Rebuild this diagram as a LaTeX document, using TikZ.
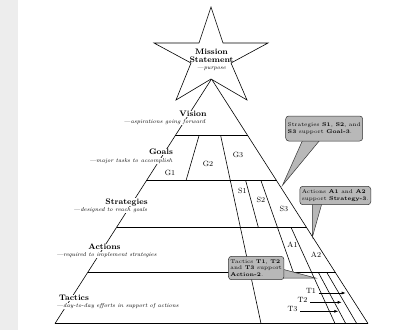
\documentclass[tikz,border=0pt]{standalone}
\usepackage{tikz}
\usetikzlibrary{arrows.meta, positioning, shapes, calc}

\tikzset{
  level/.style={fill=white, inner sep=0.6pt, font=\fontsize{8}{8.6}\selectfont\bfseries},
  levelsub/.style={fill=white, inner sep=0.6pt, font=\fontsize{5.7}{6}\selectfont\itshape},
  part/.style={inner sep=0pt, font=\fontsize{7.6}{8}\selectfont},
  callout/.style={draw=black!80, fill=black!28, rounded corners=3pt, line width=0.5pt,
    align=left, inner sep=2pt, font=\fontsize{5.4}{6.6}\selectfont},
  edge/.style={line width=0.6pt},
  pointer/.style={fill=black!28, draw=black!80, line width=0.5pt},
  tacarrow/.style={-{Latex[length=4pt,width=3pt]}, line width=0.6pt},
}

\begin{document}
\begin{tikzpicture}[x=1pt, y=-1pt]
\useasboundingbox (0,0) rectangle (395,330);
% page strip on the left
\fill[black!7] (0,0) rectangle (17.5,330);

% corners of the pyramid
\coordinate (apex) at (211.5,79);
\coordinate (bl) at (55,323.5);
\coordinate (br) at (368,323.5);

% outline
\draw[edge] (apex) -- (bl);
\draw[edge] (apex) -- (br);
\draw[edge] (bl) -- (br);

% level lines
\draw[edge] (175.1,135.7) -- (247.9,135.7);
\draw[edge] (146.3,180.7) -- (276.7,180.7);
\draw[edge] (116.6,227.3) -- (306.6,227.3);
\draw[edge] (87.7,272.3) -- (335.5,272.3);

% goals
\draw[edge] (199,135.7) -- (186,180.7);
\draw[edge] (220.7,135.7) -- (261,323.5);
% strategies
\draw[edge] (245.7,180.7) -- (258.3,227.3);
\draw[edge] (261,180.7) -- (293.3,272.3);
% actions
\draw[edge] (291,227.3) -- (335,323.5);
% tactics
\draw[edge] (318.3,272.3) -- (345.7,323.5);
\draw[edge] (326.7,272.3) -- (356.7,323.5);

% mission star
\draw[edge, fill=white] (211,7) -- (223,43) -- (268,43) -- (231,63) -- (247,100)
  -- (211,79) -- (176,100) -- (191,63) -- (154,43) -- (199,43) -- cycle;
\node[level, fill=none, align=center] (mission) at (211.5,55.8)
  {Mission\\[-0.5pt]Statement};
\node[levelsub, fill=none] (missionsub) at (211.5,68.5) {---purpose};

% level labels on the left side
\node[level] (vision) at (193,114) {Vision};
\node[levelsub, anchor=east] (visionsub) at (206,122) {---aspirations going forward};
\node[level] (goals) at (161,152) {Goals};
\node[levelsub, anchor=east] (goalssub) at (173,161) {---major tasks to accomplish};
\node[level] (strategies) at (126.5,202) {Strategies};
\node[levelsub, anchor=east] (strategiessub) at (148,210) {---designed to reach goals};
\node[level] (actions) at (104.5,247) {Actions};
\node[levelsub] (actionssub) at (106.5,255) {---required to implement strategies};
\node[level] (tactics) at (74,298) {Tactics};
\node[levelsub, anchor=west] (tacticssub) at (55.5,306) {---day-to-day efforts in support of actions};

% parts
\node[part] (g1) at (170,173) {G1};
\node[part] (g2) at (208,164.3) {G2};
\node[part] (g3) at (238,155) {G3};
\node[part] (s1) at (242.5,191) {S1};
\node[part] (s2) at (261,200) {S2};
\node[part] (s3) at (284,209) {S3};
\node[part] (a1) at (292.5,245) {A1};
\node[part] (a2) at (316,255) {A2};
\node[part] (t1) at (311,291.3) {T1};
\node[part] (t2) at (302.5,300.3) {T2};
\node[part] (t3) at (292.5,309) {T3};

% arrows to the tactics
\coordinate (t1end) at (345.7,293);
\coordinate (t2end) at (341.7,302.3);
\coordinate (t3end) at (338.3,311.3);
\draw[tacarrow] ([xshift=2.5pt]t1.east |- t1end) -- (t1end);
\draw[tacarrow] ([xshift=2.5pt]t2.east |- t2end) -- (t2end);
\draw[tacarrow] ([xshift=2.5pt]t3.east |- t3end) -- (t3end);

% callouts
\coordinate (goalstip) at (282.5,185.3);
\draw[pointer] (302.7,140) -- (goalstip) -- (320,140);
\node[callout, minimum width=65pt, minimum height=25pt] (goalsnote) at (324.2,128.5)
  {Strategies \textbf{S1}, \textbf{S2}, and\\\textbf{S3} support \textbf{Goal-3}.};

\coordinate (stratstip) at (312.3,237.3);
\draw[pointer] (312.3,203) -- (stratstip) -- (322,203);
\node[callout, minimum width=62.7pt, minimum height=18.4pt] (stratnote) at (335.3,195.5)
  {Actions \textbf{A1} and \textbf{A2}\\support \textbf{Strategy-3}.};

\coordinate (actionstip) at (315.5,278);
\draw[pointer] (278,268) -- (actionstip) -- (278,278);
\node[callout, minimum width=47.7pt, minimum height=23.4pt] (actionnote) at (256.2,268)
  {Tactics \textbf{T1}, \textbf{T2}\\and \textbf{T3} support\\\textbf{Action-2}.};
\end{tikzpicture}
\end{document}
